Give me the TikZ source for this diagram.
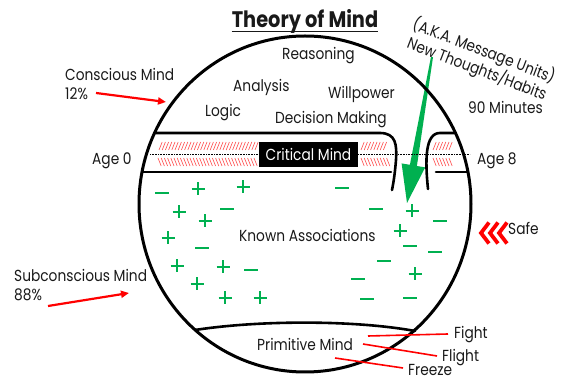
\documentclass[tikz,border=0pt]{standalone}
\usepackage{fontspec}
\setmainfont{Poppins}[FakeStretch=0.86]
\usetikzlibrary{arrows.meta}
\definecolor{mgreen}{RGB}{0,176,80}
\definecolor{mred}{RGB}{255,0,0}
\definecolor{hred}{RGB}{255,70,70}
\definecolor{ink}{RGB}{25,25,25}
\begin{document}
\begin{tikzpicture}[x=1pt,y=-1pt,
  lbl/.style={font=\fontsize{16}{19}\selectfont, inner sep=0pt, text=ink, anchor=base west},
  band/.style={draw=black, line width=2.6pt, line cap=round},
  hatch/.style={draw=hred, line width=0.6pt},
  signline/.style={draw=mgreen, line width=2.2pt},
  redarrow/.style={draw=mred, line width=2.2pt, -{Triangle[length=8pt,width=7pt]}},
  redline/.style={draw=mred, line width=1.6pt},
  chev/.style={draw=mred, line width=3.8pt, miter limit=10}]
\useasboundingbox (0,0) rectangle (566,379);
% title
\node[font=\fontsize{22.5}{26}\selectfont\bfseries, inner sep=0pt, text=ink, anchor=base] (title) at (305,28) {Theory of Mind};
\draw[line width=1.4pt, ink] ([yshift=-3.8pt]title.base west) -- ([yshift=-3.8pt]title.base east);
% green arrow (behind circle)
\fill[mgreen] (431,56.8) -- (433,57.2) -- (416.9,166) -- (425.2,167.4) -- (407,203) -- (401.6,163.4) -- (409.9,164.8) -- cycle;
% hatching
\foreach \x in {159,162.2,...,255} {\draw[hatch] (\x,150) -- (\x+3.2,142);}
\foreach \x in {158,161.2,...,255} {\draw[hatch] (\x,158) -- (\x+3.2,166);}
\foreach \x in {361,364.2,...,385} {\draw[hatch] (\x,150) -- (\x+3.2,142);}
\foreach \x in {361,364.2,...,387} {\draw[hatch] (\x,158) -- (\x+3.2,166);}
\foreach \x in {433,436.2,...,449} {\draw[hatch] (\x,150) -- (\x+3.2,142);}
\foreach \x in {433,436.2,...,452} {\draw[hatch] (\x,158) -- (\x+3.2,166);}
\draw[densely dotted, line width=0.6pt] (150,154) -- (470,154);
% critical mind box
\node[fill=black, minimum width=99pt, minimum height=25pt, inner sep=0pt, text=white, font=\fontsize{16}{19}\selectfont] (crit) at (308.5,154.5) {Critical Mind};
% main circle
\draw[line width=3pt] (305,204) ellipse [x radius=166pt, y radius=168pt];
% critical band
\draw[band] (155,133) -- (380,133) .. controls (396,133) and (397,145) .. (396,160) .. controls (395,172) and (394,180) .. (392,190);
\draw[band] (142,172) -- (391,172);
\draw[band] (428,189) .. controls (425,160) and (425,133) .. (440,133) -- (455,133);
\draw[band] (436,172) -- (468,172);
% primitive arc
\draw[band] (195,330) .. controls (260,320) and (355,320) .. (415,331);
% signs
\foreach \x/\y in {198/189,243/187,179/212,205/221,168/238,177/266,223/267,197/284,225/298,260/298,412/211,400/231,415/274}
  {\draw[signline] (\x-6.5,\y) -- (\x+6.5,\y) (\x,\y-6.5) -- (\x,\y+6.5);}
\foreach \x/\y in {162/193,342/188,227/209,202/248,251/270,376/209,440/221,410/246,435/252,384/261,358/279,367/299,410/298}
  {\draw[signline] (\x-7,\y) -- (\x+7,\y);}
% labels
\node[lbl] (reas) at (282,60) {Reasoning};
\node[lbl] (anal) at (233,92) {Analysis};
\node[lbl] (will) at (328,99) {Willpower};
\node[lbl] (logic) at (205,117) {Logic};
\node[lbl] (dec) at (275,124) {Decision Making};
\node[lbl] (ninety) at (468,114) {90 Minutes};
\node[lbl, anchor=center, rotate=-21] (aka) at (484,51) {(A.K.A. Message Units)};
\node[lbl, anchor=center, rotate=-21] (newt) at (477,69) {New Thoughts/Habits};
\node[lbl] (cm1) at (65,81) {Conscious Mind};
\node[lbl] (cm2) at (65,100) {12\%};
\node[lbl] (age0) at (92,165) {Age 0};
\node[lbl] (age8) at (477,165) {Age 8};
\node[lbl] (sm1) at (14,282) {Subconscious Mind};
\node[lbl] (sm2) at (14,301) {88\%};
\node[lbl] (safe) at (508,235) {Safe};
\node[lbl] (known) at (239,242) {Known Associations};
\node[lbl] (prim) at (257,351) {Primitive Mind};
\node[lbl] (fight) at (454,339) {Fight};
\node[lbl] (flight) at (442,362) {Flight};
\node[lbl] (freeze) at (408,375.5) {Freeze};
% red arrows
\coordinate (ca1) at (96,93); \coordinate (ca2) at (166,102);
\coordinate (sa1) at (48,306); \coordinate (sa2) at (129,293);
\draw[redarrow] (ca1) -- (ca2);
\draw[redarrow] (sa1) -- (sa2);
% fight/flight/freeze lines
\coordinate (f1) at (368,336); \coordinate (f2) at (363,344); \coordinate (f3) at (335,358);
\draw[redline] (f1) -- ([xshift=-6pt,yshift=5pt]fight.base west);
\draw[redline] (f2) -- ([xshift=-5pt,yshift=6pt]flight.base west);
\draw[redline] (f3) -- ([xshift=-5pt,yshift=7.5pt]freeze.base west);
% chevrons
\foreach \x in {481,490,499} {\draw[chev] (\x+8,222.5) -- (\x,233) -- (\x+8,243.5);}
\end{tikzpicture}
\end{document}
